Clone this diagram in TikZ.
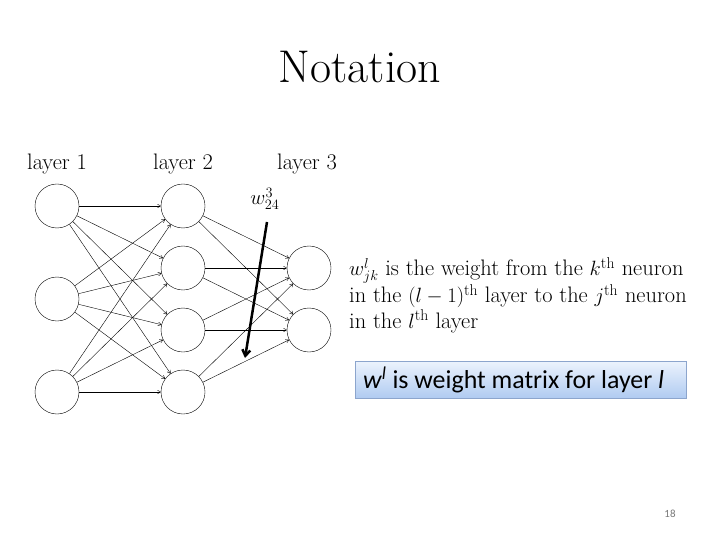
\documentclass[tikz,border=0pt]{standalone}
\usepackage{fontspec}
\newfontfamily\slidefont{Carlito}
\usetikzlibrary{arrows.meta}
\definecolor{boxedge}{RGB}{140, 165, 205}
\definecolor{boxtop}{RGB}{236, 243, 253}
\definecolor{boxbottom}{RGB}{176, 203, 241}
\definecolor{pagegray}{RGB}{120, 120, 120}
\tikzstyle{neuron} = [circle, draw, thin, minimum size=44bp, inner sep=0pt]
\tikzstyle{arrow} = [-{To[length=3.5pt, width=4pt]}, thin]
\tikzstyle{bigarrow} = [-{Straight Barb[length=6pt, width=8pt]}, line width=2.5bp]
\tikzstyle{layerlabel} = [font=\fontsize{22.5}{25.5}\selectfont]

\begin{document}
\begin{tikzpicture}[x=1bp, y=-1bp]
\useasboundingbox (0,0) rectangle (720,540);

% Title
\node[font=\fontsize{46}{50}\selectfont] (title) at (360, 67) {Notation};

% Layer labels
\node[layerlabel] (lab1) at (57, 164) {layer 1};
\node[layerlabel] (lab2) at (183, 164) {layer 2};
\node[layerlabel] (lab3) at (307, 164) {layer 3};

% Layer 1
\node[neuron] (l1a) at (57, 206) {};
\node[neuron] (l1b) at (57, 299) {};
\node[neuron] (l1c) at (57, 392) {};

% Layer 2
\node[neuron] (l2a) at (183, 206) {};
\node[neuron] (l2b) at (183, 268) {};
\node[neuron] (l2c) at (183, 330) {};
\node[neuron] (l2d) at (183, 392) {};

% Layer 3
\node[neuron] (l3a) at (309, 268) {};
\node[neuron] (l3b) at (309, 330) {};

% Arrows layer 1-2
\draw[arrow] (l1a) -- (l2a);
\draw[arrow] (l1a) -- (l2b);
\draw[arrow] (l1a) -- (l2c);
\draw[arrow] (l1a) -- (l2d);
\draw[arrow] (l1b) -- (l2a);
\draw[arrow] (l1b) -- (l2b);
\draw[arrow] (l1b) -- (l2c);
\draw[arrow] (l1b) -- (l2d);
\draw[arrow] (l1c) -- (l2a);
\draw[arrow] (l1c) -- (l2b);
\draw[arrow] (l1c) -- (l2c);
\draw[arrow] (l1c) -- (l2d);

% Arrows layer 2-3
\draw[arrow] (l2a) -- (l3a);
\draw[arrow] (l2a) -- (l3b);
\draw[arrow] (l2b) -- (l3a);
\draw[arrow] (l2b) -- (l3b);
\draw[arrow] (l2c) -- (l3a);
\draw[arrow] (l2c) -- (l3b);
\draw[arrow] (l2d) -- (l3a);
\draw[arrow] (l2d) -- (l3b);

% Weight pointer
\node[layerlabel] (wlab) at (265, 199) {$w^3_{24}$};
\coordinate (wtail) at (267, 222);
\coordinate (whead) at (245, 358);
\draw[bigarrow] (wtail) -- (whead);

% Definition text
\node[layerlabel, anchor=north west, align=left, inner sep=0pt] (defn) at (349, 257)
  {$w^l_{jk}$ is the weight from the $k^{\mathrm{th}}$ neuron\\
   in the $(l-1)^{\mathrm{th}}$ layer to the $j^{\mathrm{th}}$ neuron\\
   in the $l^{\mathrm{th}}$ layer};

% Matrix box
\node[rectangle, draw=boxedge, top color=boxtop, bottom color=boxbottom,
      minimum width=331bp, minimum height=37bp, text width=315bp, inner xsep=8bp,
      align=flush left, font=\slidefont\fontsize{26}{29}\selectfont] (matbox) at (520.5, 379.5)
  {\textit{w}\textsuperscript{\textit{l}} is weight matrix for layer \textit{l}};

% Page number
\node[font=\slidefont\fontsize{11}{13}\selectfont, pagegray] (pagenum) at (670, 514) {18};

\end{tikzpicture}
\end{document}
